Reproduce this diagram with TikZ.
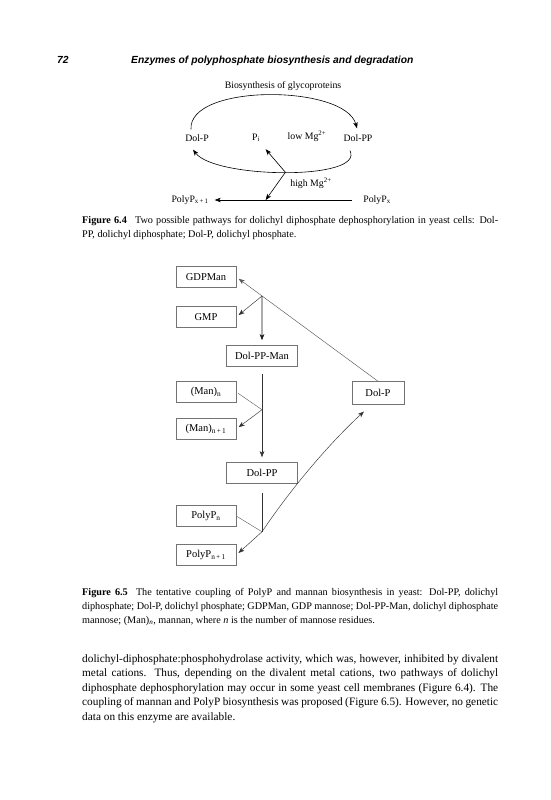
\documentclass[tikz,border=0pt]{standalone}
\usepackage{fontspec}
\setmainfont{Liberation Serif}
\newfontfamily\headfont{Liberation Sans}
\usetikzlibrary{arrows.meta, calc, positioning}

\tikzset{
	lbl/.style={font=\fontsize{9.8}{11}\selectfont, inner sep=1pt},
	box/.style={draw=black!55, line width=0.5pt, fill=white, inner sep=0pt,
		minimum height=21pt, font=\fontsize{10.5}{12}\selectfont},
	lbox/.style={box, minimum width=60pt},
	cbox/.style={box, minimum width=71pt},
	arr/.style={-{Stealth[length=6pt, width=4.5pt, inset=1.5pt]}, line width=0.6pt},
	ln/.style={line width=0.45pt, draw=black!80},
	para/.style={anchor=base west, inner sep=0pt, align=left},
}
\def\tw{416pt}

\begin{document}
\begin{tikzpicture}[x=1pt, y=-1pt]
	\fill[white] (0,0) rectangle (551,800);
	\useasboundingbox (0,0) rectangle (551,800);
	
	% running head
	\node[para, font=\headfont\bfseries\itshape\fontsize{10.3}{12}\selectfont] (pg) at (57,63.5) {72};
	\node[para, font=\headfont\bfseries\itshape\fontsize{10.3}{12}\selectfont] (head) at (131,63.5) {Enzymes of polyphosphate biosynthesis and degradation};
	
	% Figure 6.4
	\node[lbl] (bio) at (283,86) {Biosynthesis of glycoproteins};
	\node[lbl] (dolp) at (197,138) {Dol-P};
	\node[lbl] (pi) at (256,138) {P\textsubscript{i}};
	\node[lbl] (low) at (307,136) {low Mg\textsuperscript{2+}};
	\node[lbl] (dolpp) at (358,138) {Dol-PP};
	\node[lbl] (high) at (311,183) {high Mg\textsuperscript{2+}};
	\node[lbl] (px1) at (190,200) {PolyP\textsubscript{x\,+\,1}};
	\node[lbl] (px) at (377,200) {PolyP\textsubscript{x}};
	
	\draw[arr] ($(dolp.north)+(-6,-4)$) .. controls +(-3,-46) and +(-12,-44) .. ($(dolpp.north)+(-1,-5)$);
	\draw[arr] ($(dolpp.south)+(-8,8)$) .. controls +(15,30) and +(22,29) .. ($(dolp.south)+(-4,7)$)
		coordinate[pos=0.5] (jb);
	\coordinate (jl) at ($(px1.east)+(56,0)$);
	\draw[arr, shorten <=10pt, shorten >=5pt] (px) -- (px1);
	\draw[arr, shorten >=8pt] (jb) -- (pi);
	\draw[arr] (jb) -- (jl);
	
	% caption 6.4 (base = last line)
	\node[para, font=\fontsize{10.2}{14}\selectfont] (cap4) at (82,237) {%
		\makebox[\tw][s]{\textbf{Figure 6.4}\hspace{0.8em}Two possible pathways for dolichyl diphosphate dephosphorylation in yeast cells: Dol-}\\
		PP, dolichyl diphosphate; Dol-P, dolichyl phosphate.};
	
	% Figure 6.5
	\node[lbox] (gdp) at (206,277) {GDPMan};
	\node[lbox] (gmp) at (206,317) {GMP};
	\node[cbox] (dppm) at (262,356) {Dol-PP-Man};
	\node[lbox] (mann) at (206,392) {(Man)\textsubscript{n}};
	\node[box, minimum width=52pt, minimum height=23pt] (dolpb) at (378,393) {Dol-P};
	\node[lbox] (mann1) at (206,429) {(Man)\textsubscript{n\,+\,1}};
	\node[cbox] (dolppb) at (262,473) {Dol-PP};
	\node[lbox] (polyn) at (206,516) {PolyP\textsubscript{n}};
	\node[lbox] (polyn1) at (206,555) {PolyP\textsubscript{n\,+\,1}};
	
	\coordinate (j1) at (intersection of dolpb.north--gdp.east and dppm.north--dppm.south);
	\coordinate (j2) at ($(dppm.south)!0.45!(dolppb.north)$);
	\coordinate (j3) at ($(dolppb.south)+(0,48)$);
	
	\draw[arr, ln, draw=black!65, shorten >=3pt] (dolpb.north) -- (gdp.east);
	\draw[arr, ln, shorten >=3pt] (j1) -- (gmp.east);
	\draw[arr, ln, line width=0.6pt, draw=black!90, shorten >=5pt] (j1) -- (dppm.north);
	\draw[ln, shorten <=7pt] (dppm.south) -- (j2);
	\draw[ln, draw=black!60, shorten <=2pt] (mann.east) -- (j2);
	\draw[arr, ln, shorten >=3pt] (j2) -- (mann1.east);
	\draw[arr, ln, shorten >=5pt] (j2) -- (dolppb.north);
	\draw[ln, shorten <=9pt] (dolppb.south) -- (j3);
	\draw[ln, draw=black!60] (polyn.east) -- (j3);
	\draw[arr, ln, shorten >=3pt] (j3) -- (polyn1.east);
	\draw[arr, ln, shorten >=10pt] (j3) .. controls +(31,-46) and +(-41,38) .. (dolpb.240);
	
	% caption 6.5
	\node[para, font=\fontsize{10.2}{14}\selectfont] (cap5) at (82,623) {%
		\makebox[\tw][s]{\textbf{Figure 6.5}\hspace{0.8em}The tentative coupling of PolyP and mannan biosynthesis in yeast: Dol-PP, dolichyl}\\
		\makebox[\tw][s]{diphosphate; Dol-P, dolichyl phosphate; GDPMan, GDP mannose; Dol-PP-Man, dolichyl diphosphate}\\
		mannose; (Man)\textsubscript{\textit{n}}, mannan, where \textit{n} is the number of mannose residues.};
	
	% body text
	\node[para, font=\fontsize{11.3}{14.5}\selectfont] (body) at (82,720) {%
		\makebox[\tw][s]{dolichyl-diphosphate:phosphohydrolase activity, which was, however, inhibited by divalent}\\
		\makebox[\tw][s]{metal cations. Thus, depending on the divalent metal cations, two pathways of dolichyl}\\
		\makebox[\tw][s]{diphosphate dephosphorylation may occur in some yeast cell membranes (Figure 6.4). The}\\
		\makebox[\tw][s]{coupling of mannan and PolyP biosynthesis was proposed (Figure 6.5). However, no genetic}\\
		data on this enzyme are available.};
\end{tikzpicture}
\end{document}
